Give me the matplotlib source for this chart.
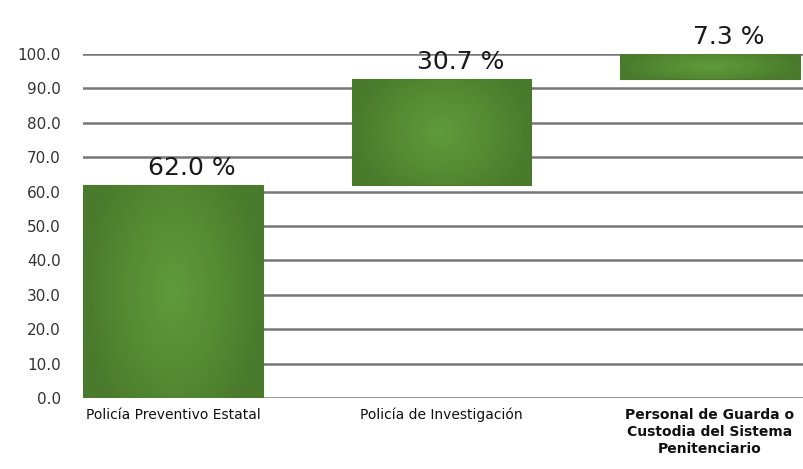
import numpy as np
import matplotlib.pyplot as plt
from matplotlib.colors import LinearSegmentedColormap

# data
categories = ['Policía Preventivo Estatal', 'Policía de Investigación',
              'Personal de Guarda o\nCustodia del Sistema\nPenitenciario']
shares = [62.0, 30.7, 7.3]
yticks = [0, 10, 20, 30, 40, 50, 60, 70, 80, 90, 100]

bottoms = np.concatenate([[0], np.cumsum(shares)[:-1]])
x = np.arange(len(categories))

fig = plt.figure(figsize=(8.04, 4.69), dpi=100)
ax = fig.add_axes([0.1032, 0.1514, 0.8968, 0.7335])

# horizontal grid lines
for v in yticks:
    ax.axhline(v, color='#777777', lw=1.8, zorder=1)

bars = ax.bar(x, shares, bottom=bottoms, width=0.67, color='#568c34',
              edgecolor='#4a7a2c', linewidth=0.8, zorder=2)

# soft gradient fill, lighter in the middle
cmap = LinearSegmentedColormap.from_list('g', ['#5f9b3b', '#568c34', '#4a7a2c'])
gx, gy = np.meshgrid(np.linspace(-1, 1, 200), np.linspace(-1, 1, 200))
grad = np.clip(np.sqrt(gx**2 + gy**2 * 0.45), 0, 1)
for b in bars:
    x0, y0 = b.get_x(), b.get_y()
    im = ax.imshow(grad, cmap=cmap, vmin=0, vmax=1, aspect='auto',
                   extent=[x0, x0 + b.get_width(), y0, y0 + b.get_height()],
                   zorder=3, interpolation='bilinear')
    im.set_clip_path(b)

for xi, b0, s in zip(x, bottoms, shares):
    ax.text(xi + 0.07, b0 + s + 1.5, f'{s:.1f} %', ha='center', va='bottom',
            fontsize=18, color='#1a1a1a', zorder=4, clip_on=False)

ax.set_xlim(-0.335, 2.35)
ax.set_ylim(0, 100)
ax.set_yticks(yticks)
ax.set_yticklabels([f'{v:.1f}' for v in yticks], fontsize=11, color='#333333')
ax.tick_params(axis='y', length=0, pad=16)
ax.set_xticks(x)
ax.set_xticklabels(categories, fontsize=10, color='#111111', linespacing=1.3)
ax.get_xticklabels()[2].set_fontweight('bold')
ax.tick_params(axis='x', length=0, pad=7)
for sp in ax.spines.values():
    sp.set_visible(False)

fig.savefig('out.png', dpi=100)
